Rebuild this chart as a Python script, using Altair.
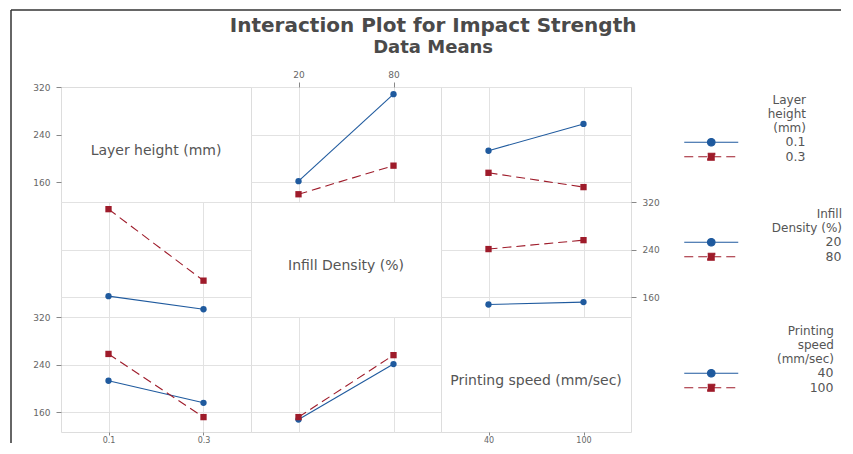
import altair as alt
import pandas as pd

# ---------------- data ----------------
factor_names = ["Layer height (mm)", "Infill Density (%)", "Printing speed (mm/sec)"]
level_values = [[0.1, 0.3], [20, 80], [40, 100]]
level_labels = [["0.1", "0.3"], ["20", "80"], ["40", "100"]]
legend_titles = [["Layer", "height", "(mm)"], ["Infill", "Density (%)"], ["Printing", "speed", "(mm/sec)"]]

# Data means for each pair of factors
layer_infill_layer = [0.1, 0.1, 0.3, 0.3]
layer_infill_infill = [20, 80, 20, 80]
layer_infill_mean = [162, 308, 140, 188]

layer_speed_layer = [0.1, 0.1, 0.3, 0.3]
layer_speed_speed = [40, 100, 40, 100]
layer_speed_mean = [213, 258, 176, 152]

infill_speed_infill = [20, 20, 80, 80]
infill_speed_speed = [40, 100, 40, 100]
infill_speed_mean = [148, 152, 241, 256]

y_ticks = [160, 240, 320]

# ---------------- styling ----------------
W, H = 190, 115
x_domains = [[0.0, 0.4], [-10, 110], [10, 130]]
x_formats = [".1f", "d", "d"]
y_domain = [127, 320]
COLORS = ["#1f5a9e", "#9e1b2a"]
SHAPES = ["circle", "square"]
DASHES = [[1, 0], [9, 5]]
GRID = "#e2e2e2"
TXT = "#555555"
FONT = "DejaVu Sans"
LEG_SYMBOLS = [
    "M-5.4,0H5.4M0.75,0A0.75,0.75,0,1,1,-0.75,0A0.75,0.75,0,1,1,0.75,0Z",
    "M-5.4,0H5.4M-0.7,-0.7H0.7V0.7H-0.7Z",
]
LEG_X = 234
legend_label_offsets = [88, 124, 116]
legend_y = [8, 7, 9]

pairs = {
    (0, 1): (layer_infill_layer, layer_infill_infill, layer_infill_mean),
    (0, 2): (layer_speed_layer, layer_speed_speed, layer_speed_mean),
    (1, 2): (infill_speed_infill, infill_speed_speed, infill_speed_mean),
}


def panel_df(r, c):
    a, b, m = pairs[(min(r, c), max(r, c))]
    trace, x = (a, b) if r < c else (b, a)
    lbl = dict(zip(level_values[r], level_labels[r]))
    return pd.DataFrame({"x": x, "trace": [lbl[v] for v in trace], "mean": m})


lab = dict(labelFontSize=9, labelColor="#666666", labelFont=FONT, tickColor="#888888",
           tickSize=5, tickWidth=1, labelPadding=6, domain=False, title=None)
lab_bottom = dict(lab, labelFontSize=8, tickSize=3, labelPadding=1)
lab_top = dict(lab, labelPadding=3)


def x_axis(r, c):
    grid = r != c
    if r == 0 and c == 1:
        return alt.Axis(orient="top", values=level_values[c], format=x_formats[c],
                        grid=grid, gridColor=GRID, **lab_top)
    if r == 2 and c in (0, 2):
        return alt.Axis(orient="bottom", values=level_values[c], format=x_formats[c],
                        grid=grid, gridColor=GRID, **lab_bottom)
    if grid:
        return alt.Axis(values=level_values[c], labels=False, ticks=False, domain=False,
                        grid=True, gridColor=GRID, title=None)
    return None


def y_axis(r, c):
    grid = r != c
    if c == 0 and r in (0, 2):
        return alt.Axis(orient="left", values=y_ticks, format="d", grid=grid, gridColor=GRID, **lab)
    if c == 2 and r == 1:
        return alt.Axis(orient="right", values=y_ticks, format="d", grid=grid, gridColor=GRID, **lab)
    if grid:
        return alt.Axis(values=y_ticks, labels=False, ticks=False, domain=False,
                        grid=True, gridColor=GRID, title=None)
    return None


def x_scale(c):
    return alt.Scale(domain=x_domains[c], nice=False, zero=False)


def y_scale():
    return alt.Scale(domain=y_domain, nice=False, zero=False)


def enc_x(field, r, c):
    return alt.X(field, axis=x_axis(r, c), scale=x_scale(c), title=None)


def enc_y(field, r, c):
    return alt.Y(field, axis=y_axis(r, c), scale=y_scale(), title=None)


def legend_layer(r):
    leg = alt.Legend(
        title=legend_titles[r], orient="none", legendX=LEG_X, legendY=legend_y[r],
        titleAlign="right", titleAnchor="end", titleFontSize=12, titleFontWeight="normal",
        titleColor=TXT, titleFont=FONT, titleLineHeight=14, titlePadding=1,
        labelAlign="right", labelOffset=legend_label_offsets[r], labelFontSize=12.5,
        labelColor=TXT, labelFont=FONT, symbolSize=100, symbolStrokeWidth=1.2,
        symbolOffset=30, rowPadding=1.5, padding=0, labelLimit=300,
    )
    dom = level_labels[r]
    df = pd.DataFrame({"lvl": dom})
    return alt.Chart(df).transform_filter("false").mark_point(
        filled=True, strokeWidth=1.2, opacity=1
    ).encode(
        fill=alt.Fill("lvl:N", scale=alt.Scale(domain=dom, range=COLORS), legend=leg),
        stroke=alt.Stroke("lvl:N", scale=alt.Scale(domain=dom, range=COLORS), legend=leg),
        shape=alt.Shape("lvl:N", scale=alt.Scale(domain=dom, range=LEG_SYMBOLS), legend=leg),
        strokeDash=alt.StrokeDash("lvl:N", scale=alt.Scale(domain=dom, range=DASHES), legend=leg),
    )


def frame_layer():
    # thin dark border at the top and left of the figure (as in the screenshot)
    one = alt.Chart(pd.DataFrame({"k": [0]}))
    left = one.mark_rule(color="#333333", strokeWidth=1.5).encode(
        x=alt.value(-50), y=alt.value(-77), y2=alt.value(356))
    top = one.mark_rule(color="#333333", strokeWidth=1.5).encode(
        x=alt.value(-50), x2=alt.value(780), y=alt.value(-77))
    return [left, top]


panels = []
for r in range(3):
    for c in range(3):
        layers = []
        if r == c:
            mid_x = sum(x_domains[c]) / 2
            txt = alt.Chart(pd.DataFrame({"name": [factor_names[r]]})).mark_text(
                fontSize=14, color=TXT, font=FONT
            ).encode(
                text="name:N",
                x=alt.X(datum=mid_x, scale=x_scale(c), axis=x_axis(r, c), title=None),
                y=alt.Y(datum=212, scale=y_scale(), axis=y_axis(r, c), title=None),
            )
            layers.append(txt)
        else:
            df = panel_df(r, c)
            base = alt.Chart(df)
            for k, lvl in enumerate(level_labels[r]):
                sub = base.transform_filter(alt.datum.trace == lvl)
                line_kw = dict(color=COLORS[k], strokeWidth=1.1)
                if k == 1:
                    line_kw["strokeDash"] = DASHES[1]
                layers.append(sub.mark_line(**line_kw).encode(
                    x=enc_x("x:Q", r, c), y=enc_y("mean:Q", r, c)))
                layers.append(sub.mark_point(shape=SHAPES[k], filled=True, color=COLORS[k],
                                             size=40, opacity=1).encode(
                    x=enc_x("x:Q", r, c), y=enc_y("mean:Q", r, c)))
        if r == 0 and c == 0:
            layers.extend(frame_layer())
        if c == 2:
            layers.append(legend_layer(r))
        panels.append(alt.layer(*layers).properties(width=W, height=H))

chart = alt.concat(*panels, columns=3, spacing=0, bounds="flush").resolve_scale(
    x="independent", y="independent", fill="independent", stroke="independent",
    shape="independent", strokeDash="independent",
).properties(
    title=alt.TitleParams(
        text="Interaction Plot for Impact Strength", subtitle="Data Means",
        fontSize=20, fontWeight="bold", color="#4a4a4a", font=FONT,
        subtitleFontSize=18, subtitleFontWeight="bold", subtitleColor="#4a4a4a",
        subtitleFont=FONT, anchor="middle", offset=-48, subtitlePadding=3, dx=7,
    ),
    padding={"left": 1, "top": 0, "right": 0, "bottom": 0},
).configure_view(stroke="#7a7a7a", strokeWidth=1.5).configure(font=FONT)

chart.save("out.html", embed_options={"renderer": "svg", "actions": False})
